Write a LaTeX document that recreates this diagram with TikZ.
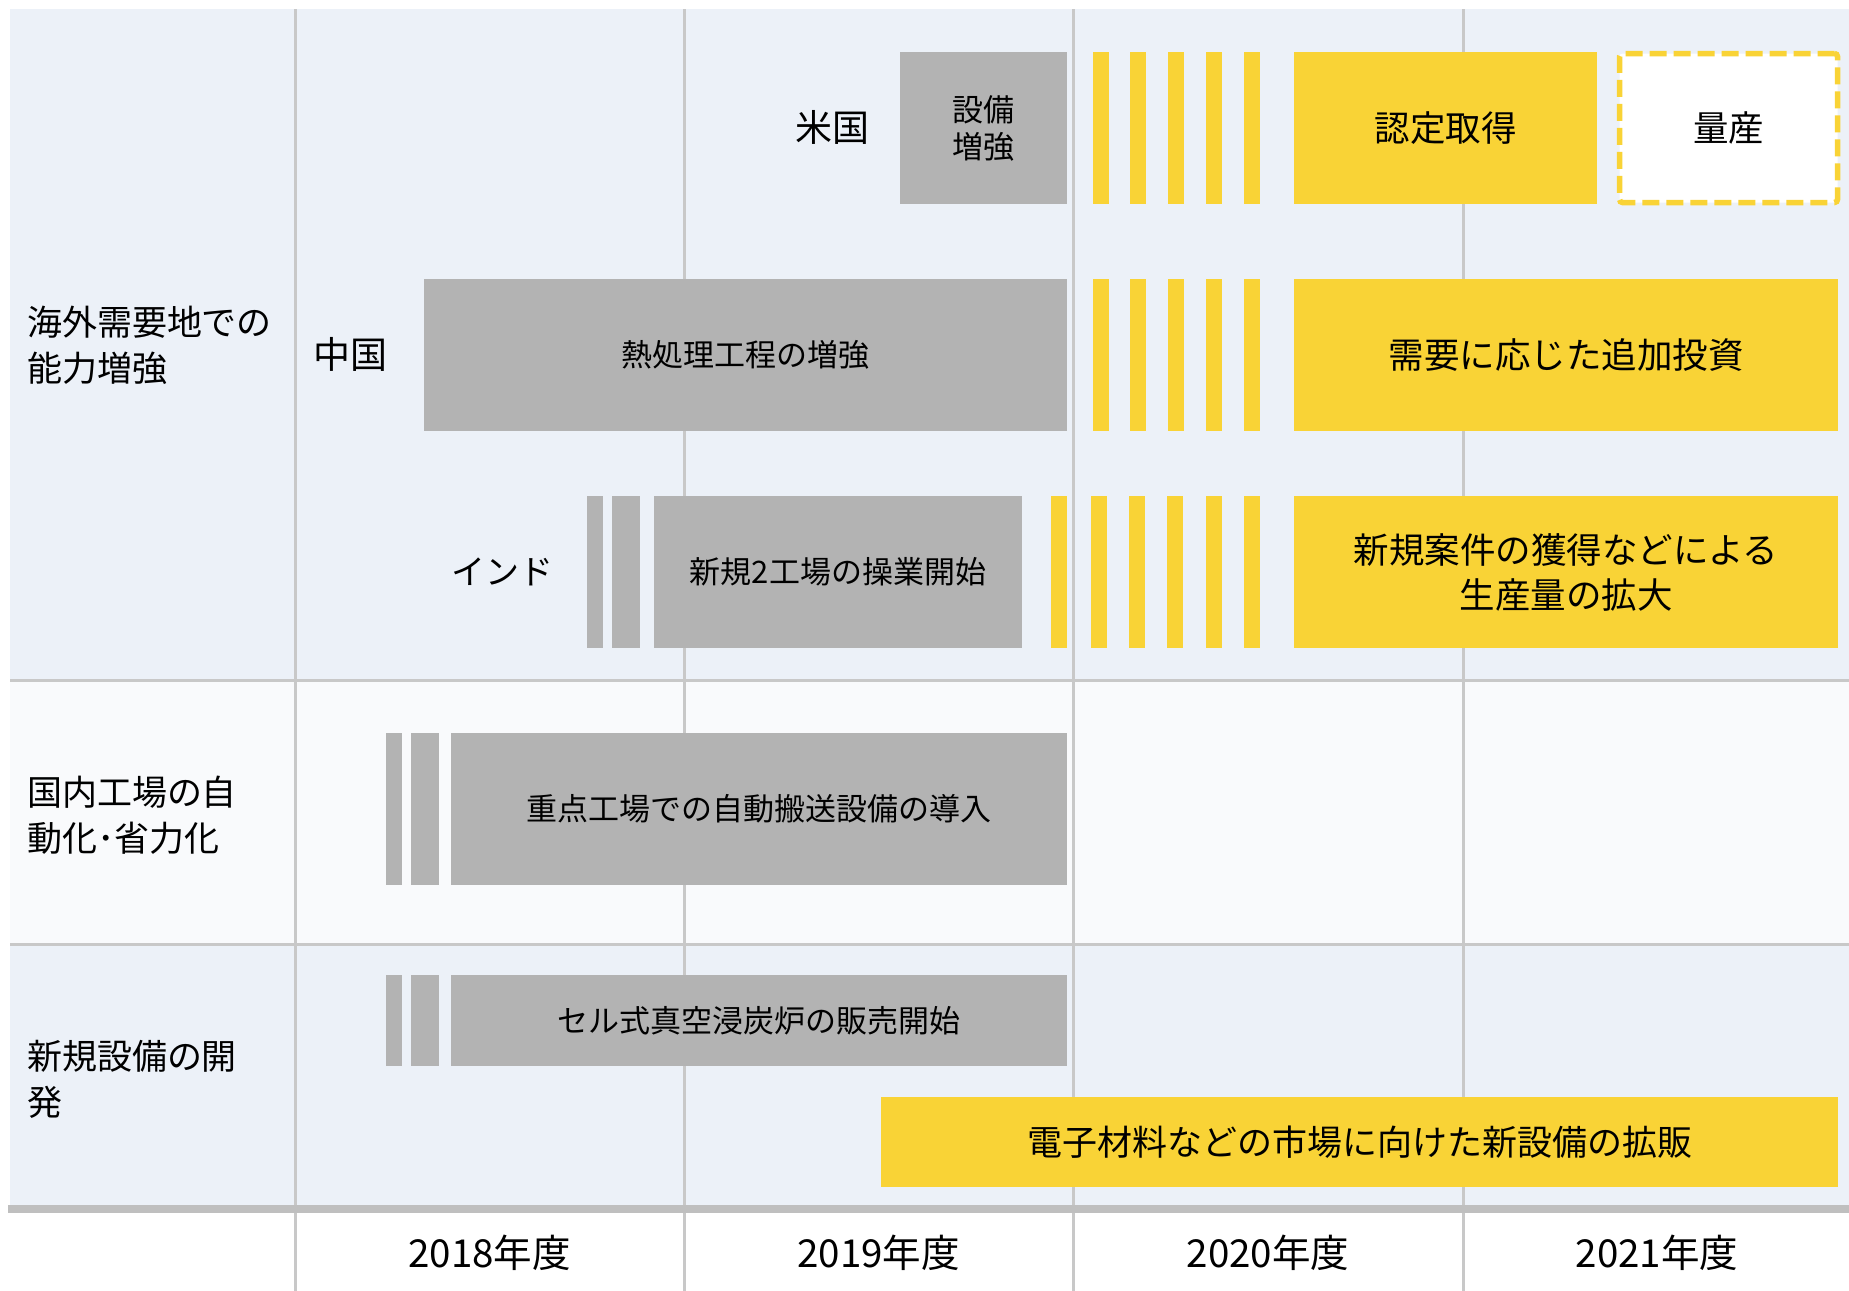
\documentclass[tikz,border=0pt]{standalone}
\usepackage{fontspec}
\setmainfont{Noto Sans CJK JP}
\definecolor{bgblue}{RGB}{236,241,248}
\definecolor{bglight}{RGB}{249,250,252}
\definecolor{gridgray}{RGB}{200,200,200}
\definecolor{thickgray}{RGB}{191,191,191}
\definecolor{boxgray}{RGB}{179,179,179}
\definecolor{boxyellow}{RGB}{249,211,54}
\newcommand\rbox[7]{%
  \node[#6, minimum width={(#4-#2)*0.5pt}, minimum height={(#5-#3)*0.5pt}] (#1) at ({(#2+#4)/2},{(#3+#5)/2}) {#7};}
\tikzset{
  base/.style={inner sep=0pt, outer sep=0pt, draw=none, text=black},
  graybox/.style={base, fill=boxgray, align=center, font=\fontsize{15.5}{18.5}\selectfont},
  yellowbox/.style={base, fill=boxyellow, align=center, font=\fontsize{17.75}{22.5}\selectfont},
  dashbox/.style={base, fill=white, draw=boxyellow, line width=2.75pt, dash pattern=on 8.5pt off 3.5pt, rounded corners=1.5pt, align=center, font=\fontsize{17.75}{22.5}\selectfont},
  stripe/.style={base},
  country/.style={base, font=\fontsize{18.5}{22}\selectfont},
  rowlabel/.style={base, anchor=west, align=left, font=\fontsize{17.5}{23}\selectfont},
  yearlabel/.style={base, font=\fontsize{19.25}{22}\selectfont},
  gridline/.style={draw=gridgray, line width=1.5pt},
}
\begin{document}
\begin{tikzpicture}[x=0.5pt,y=-0.5pt]
\useasboundingbox (0,0) rectangle (1849,1291);
% row backgrounds
\fill[bgblue] (10,9) rectangle (1849,680);
\fill[bglight] (10,680) rectangle (1849,944);
\fill[bgblue] (10,944) rectangle (1849,1209);
% grid lines
\foreach \gx in {295,684,1073,1463} \draw[gridline] (\gx,9) -- (\gx,1291);
\draw[gridline] (10,680) -- (1849,680);
\draw[gridline] (10,944) -- (1849,944);
\draw[draw=thickgray, line width=4pt] (8,1209) -- (1849,1209);

% row labels
\node[rowlabel] (lab1) at (27,345) {海外需要地での\\能力増強};
\node[rowlabel] (lab2) at (27,815) {国内工場の自\\動化･省力化};
\node[rowlabel] (lab3) at (27,1079) {新規設備の開\\発};

% US row
\node[country] (us) at (832,127) {米国};
\rbox{usg}{900}{52}{1067}{204}{graybox}{設備\\増強}
\rbox{usy1}{1093}{52}{1109}{204}{stripe, fill=boxyellow}{}
\rbox{usy2}{1130}{52}{1146}{204}{stripe, fill=boxyellow}{}
\rbox{usy3}{1168}{52}{1184}{204}{stripe, fill=boxyellow}{}
\rbox{usy4}{1206}{52}{1222}{204}{stripe, fill=boxyellow}{}
\rbox{usy5}{1244}{52}{1260}{204}{stripe, fill=boxyellow}{}
\rbox{usc}{1294}{52}{1597}{204}{yellowbox}{認定取得}
\rbox{usm}{1619.5}{53.5}{1837.5}{202.5}{dashbox}{量産}

% China row
\node[country] (cn) at (350,354) {中国};
\rbox{cng}{424}{279}{1067}{431}{graybox}{熱処理工程の増強}
\rbox{cny1}{1093}{279}{1109}{431}{stripe, fill=boxyellow}{}
\rbox{cny2}{1130}{279}{1146}{431}{stripe, fill=boxyellow}{}
\rbox{cny3}{1168}{279}{1184}{431}{stripe, fill=boxyellow}{}
\rbox{cny4}{1206}{279}{1222}{431}{stripe, fill=boxyellow}{}
\rbox{cny5}{1244}{279}{1260}{431}{stripe, fill=boxyellow}{}
\rbox{cnb}{1294}{279}{1838}{431}{yellowbox}{需要に応じた追加投資}

% India row
\node[country, font=\fontsize{17}{22}\selectfont] (in) at (502,572) {インド};
\rbox{ing1}{587}{496}{603}{648}{stripe, fill=boxgray}{}
\rbox{ing2}{612}{496}{640}{648}{stripe, fill=boxgray}{}
\rbox{ing}{654}{496}{1022}{648}{graybox}{新規2工場の操業開始}
\rbox{iny0}{1051}{496}{1067}{648}{stripe, fill=boxyellow}{}
\rbox{iny1}{1091}{496}{1107}{648}{stripe, fill=boxyellow}{}
\rbox{iny2}{1129}{496}{1145}{648}{stripe, fill=boxyellow}{}
\rbox{iny3}{1167}{496}{1183}{648}{stripe, fill=boxyellow}{}
\rbox{iny4}{1206}{496}{1222}{648}{stripe, fill=boxyellow}{}
\rbox{iny5}{1244}{496}{1260}{648}{stripe, fill=boxyellow}{}
\rbox{inb}{1294}{496}{1838}{648}{yellowbox}{新規案件の獲得などによる\\生産量の拡大}

% domestic row
\rbox{dg1}{386}{733}{402}{885}{stripe, fill=boxgray}{}
\rbox{dg2}{411}{733}{439}{885}{stripe, fill=boxgray}{}
\rbox{dg}{451}{733}{1067}{885}{graybox}{重点工場での自動搬送設備の導入}

% new equipment row
\rbox{ng1}{386}{975}{402}{1066}{stripe, fill=boxgray}{}
\rbox{ng2}{411}{975}{439}{1066}{stripe, fill=boxgray}{}
\rbox{ng}{451}{975}{1067}{1066}{graybox}{セル式真空浸炭炉の販売開始}
\rbox{ny}{881}{1097}{1838}{1187}{yellowbox, font=\fontsize{17.5}{22}\selectfont}{電子材料などの市場に向けた新設備の拡販}

% years
\node[yearlabel] (y18) at (489.5,1253) {2018年度};
\node[yearlabel] (y19) at (878.5,1253) {2019年度};
\node[yearlabel] (y20) at (1268,1253) {2020年度};
\node[yearlabel] (y21) at (1657,1253) {2021年度};
\end{tikzpicture}
\end{document}
